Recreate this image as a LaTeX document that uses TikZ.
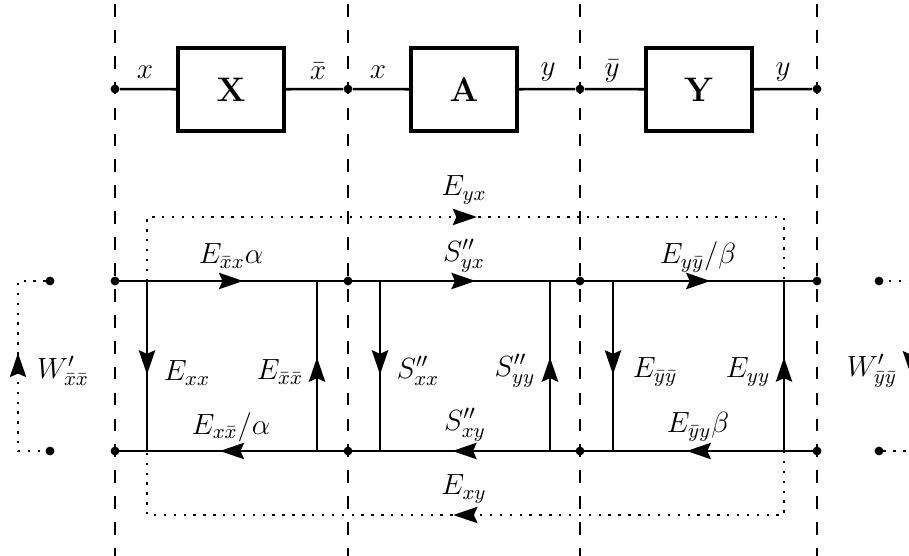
\RequirePackage{fix-cm}
\documentclass[tikz,border=0pt]{standalone}
\usetikzlibrary{arrows.meta,decorations.markings}
\begin{document}
\begin{tikzpicture}[x=0.016cm,y=-0.016cm,
  every node/.style={font=\fontsize{13.3pt}{16pt}\selectfont},
  dot/.style={circle,fill=black,inner sep=0pt,minimum size=4pt},
  blockbox/.style={draw,line width=1.8pt,minimum width=1.70cm,minimum height=1.33cm,inner sep=0pt,font=\fontsize{15.5pt}{18pt}\selectfont},
  sig/.style={line width=1.15pt},
  bound/.style={line width=1.05pt,dash pattern=on 5.8pt off 6pt},
  loopline/.style={line width=1.1pt,dash pattern=on 1.1pt off 3.4pt},
  tipA/.tip={Stealth[length=11pt,width=7.4pt,inset=1.6pt]},
  marr/.style={postaction={decorate,decoration={markings,mark=at position #1 with {\arrow{tipA}}}}}
]
\useasboundingbox (0,0) rectangle (909,556);

% boundary lines
\foreach \i/\xx in {1/115,2/348,3/580,4/817}{
  \coordinate (da\i) at (\xx,4);
  \coordinate (db\i) at (\xx,560);
  \draw[bound] (da\i) -- (db\i);
}

% top row
\node[dot] (t1) at (115,89) {};
\node[dot] (t2) at (348,89) {};
\node[dot] (t3) at (580,89) {};
\node[dot] (t4) at (817,89) {};
\node[blockbox] (X) at (231,89.5) {$\mathbf{X}$};
\node[blockbox] (A) at (464,89.5) {$\mathbf{A}$};
\node[blockbox] (Y) at (699,89.5) {$\mathbf{Y}$};
\draw[sig] (t1) -- (X);
\draw[sig] (X) -- (t2);
\draw[sig] (t2) -- (A);
\draw[sig] (A) -- (t3);
\draw[sig] (t3) -- (Y);
\draw[sig] (Y) -- (t4);
\node (lt1) at (145,72) {$x$};
\node (lt2) at (318,71) {$\bar{x}$};
\node (lt3) at (378,72) {$x$};
\node (lt4) at (548,72) {$y$};
\node (lt5) at (612,71) {$\bar{y}$};
\node (lt6) at (783,72) {$y$};

% junctions
\coordinate (ua) at (147,281); \coordinate (la) at (147,451);
\coordinate (ub) at (317,281); \coordinate (lb) at (317,451);
\coordinate (uc) at (380,281); \coordinate (lc) at (380,451);
\coordinate (ud) at (550,281); \coordinate (ld) at (550,451);
\coordinate (ue) at (613,281); \coordinate (le) at (613,451);
\coordinate (uf) at (784,281); \coordinate (lf) at (784,451);
\coordinate (pa) at (147,217); \coordinate (pb) at (784,217);
\coordinate (qa) at (147,515); \coordinate (qb) at (784,515);

% dotted loops (outer)
\draw[loopline,marr=0.515] (ua) -- (pa) -- (pb) -- (uf);
\draw[loopline,marr=0.516] (lf) -- (qb) -- (qa) -- (la);

% dots main lines
\node[dot] (u1) at (115,281) {};
\node[dot] (u2) at (348,281) {};
\node[dot] (u3) at (580,281) {};
\node[dot] (u4) at (817,281) {};
\node[dot] (l1) at (115,451) {};
\node[dot] (l2) at (348,451) {};
\node[dot] (l3) at (580,451) {};
\node[dot] (l4) at (817,451) {};

% horizontal lines
\draw[sig,marr=0.55] (u1.center) -- (u2.center);
\draw[sig,marr=0.55] (u2.center) -- (u3.center);
\draw[sig,marr=0.55] (u3.center) -- (u4.center);
\draw[sig,marr=0.55] (l2.center) -- (l1.center);
\draw[sig,marr=0.55] (l3.center) -- (l2.center);
\draw[sig,marr=0.55] (l4.center) -- (l3.center);

% verticals
\draw[sig,marr=0.55] (ua) -- (la);
\draw[sig,marr=0.55] (lb) -- (ub);
\draw[sig,marr=0.55] (uc) -- (lc);
\draw[sig,marr=0.55] (ld) -- (ud);
\draw[sig,marr=0.55] (ue) -- (le);
\draw[sig,marr=0.55] (lf) -- (uf);

% side loops
\node[dot] (wl1) at (50,281) {};
\node[dot] (wl2) at (50,451) {};
\coordinate (wla) at (18,281); \coordinate (wlb) at (18,451);
\draw[loopline,marr=0.556] (wl2.center) -- (wlb) -- (wla) -- (wl1.center);
\node[dot] (wr1) at (879,281) {};
\node[dot] (wr2) at (879,451) {};
\coordinate (wra) at (911,281); \coordinate (wrb) at (911,451);
\draw[loopline,marr=0.54] (wr1.center) -- (wra) -- (wrb) -- (wr2.center);

% labels
\node (Lyx) at (464,190) {$E_{yx}$};
\node (Lxy) at (464,489) {$E_{xy}$};
\node (L1) at (231,256) {$E_{\bar{x}x}\alpha$};
\node (L2) at (464,256) {$S''_{yx}$};
\node (L3) at (698,257) {$E_{y\bar{y}}/\beta$};
\node (L4) at (231,427) {$E_{x\bar{x}}/\alpha$};
\node (L5) at (465,425) {$S''_{xy}$};
\node (L6) at (698,427) {$E_{\bar{y}y}\beta$};
\node (V1) at (187,373) {$E_{xx}$};
\node (V2) at (280,372) {$E_{\bar{x}\bar{x}}$};
\node (V3) at (418,371) {$S''_{xx}$};
\node (V4) at (515,371) {$S''_{yy}$};
\node (V5) at (655,372) {$E_{\bar{y}\bar{y}}$};
\node (V6) at (748,372) {$E_{yy}$};
\node (W1) at (63,371) {$W'_{\bar{x}\bar{x}}$};
\node (W2) at (872,371) {$W'_{\bar{y}\bar{y}}$};
\end{tikzpicture}
\end{document}
